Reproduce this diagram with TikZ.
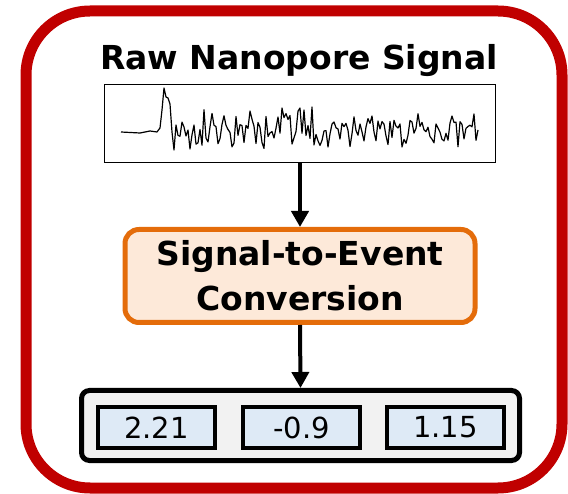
\documentclass[tikz,border=0pt]{standalone}
\usepackage{fontspec}
\setmainfont{DejaVu Sans}
\usetikzlibrary{arrows.meta}
\definecolor{framered}{HTML}{C00000}
\definecolor{convorange}{HTML}{E46C0A}
\definecolor{convfill}{HTML}{FDE9D9}
\definecolor{eventfill}{HTML}{F2F2F2}
\definecolor{valfill}{HTML}{DEEAF6}
\begin{document}
\begin{tikzpicture}[x=1pt,y=-1pt,
  outerframe/.style={draw=framered, line width=11pt, rounded corners=64pt},
  titletext/.style={font=\fontsize{33}{40}\selectfont\bfseries, inner sep=0pt},
  signalbox/.style={draw=black, line width=1.5pt, fill=white, minimum width=391pt, minimum height=78pt, inner sep=0pt},
  trace/.style={draw=black, line width=1.2pt, line join=round},
  convbox/.style={draw=convorange, fill=convfill, line width=5pt, rounded corners=14pt,
    minimum width=350pt, minimum height=93pt, align=center,
    font=\fontsize{33}{45}\selectfont\bfseries},
  eventbox/.style={draw=black, fill=eventfill, line width=5pt, rounded corners=8pt,
    minimum width=438pt, minimum height=70pt},
  valbox/.style={draw=black, fill=valfill, line width=4pt, minimum width=117pt, minimum height=41pt,
    inner sep=0pt, font=\fontsize{29}{32}\selectfont},
  arr/.style={draw=black, line width=4pt, -{Triangle[length=16pt,width=17pt]}}
]
\useasboundingbox (0,0) rectangle (568,494);
\draw[outerframe] (26,11) rectangle (562,488);
\node[titletext, anchor=base] (title) at (299,70) {Raw Nanopore Signal};
\node[signalbox] (sig) at (300,123.5) {};
\pgfmathsetseed{9137}
\draw[trace] (121,132) -- (140,133) -- (150,131) -- (157,132) -- (160,128) -- (162,110)
  -- (164,88) -- (166,97) -- (168,98) -- (170,104) -- (172,132) -- (174,150) -- (176,125)
  \foreach \x in {178,180,...,476} { -- (\x,{129+13*rand+12*rand}) } -- (478,130);
\node[convbox] (conv) at (300,276) {Signal-to-Event\\Conversion};
\node[eventbox] (events) at (300.5,425.5) {};
\node[valbox] (v1) at (156.5,427.5) {2.21};
\node[valbox] (v2) at (301.5,427.5) {-0.9};
\node[valbox] (v3) at (445.5,427.5) {1.15};
\draw[arr] (sig.south) -- (conv.north);
\draw[arr] (conv.south) -- (events.north);
\end{tikzpicture}
\end{document}
